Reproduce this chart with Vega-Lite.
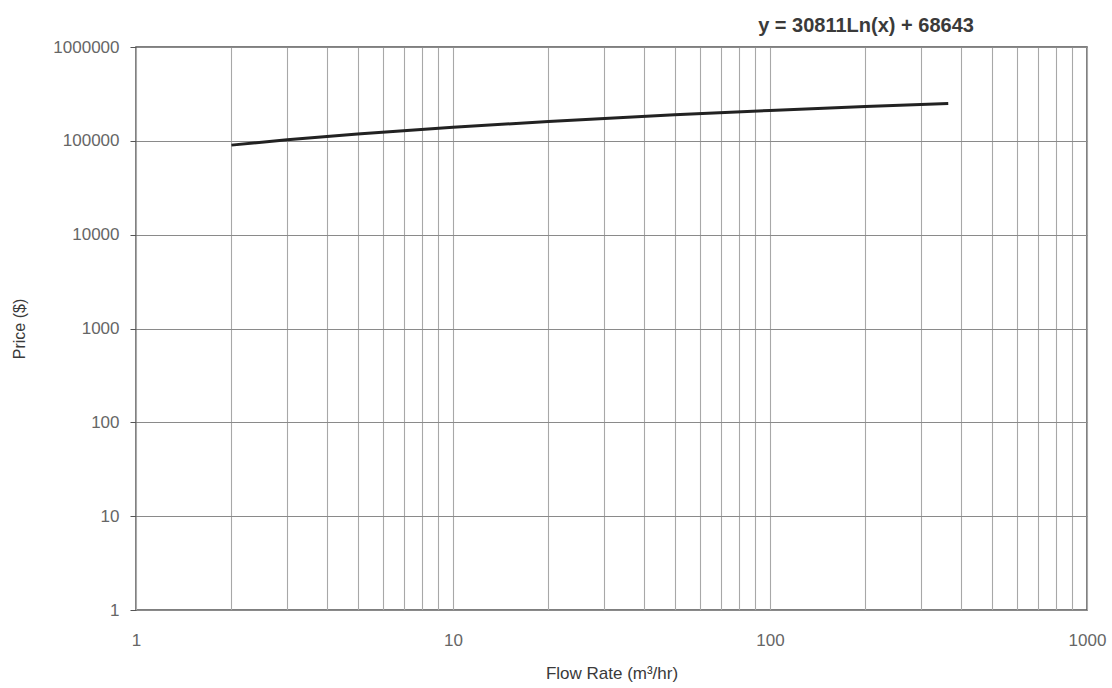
{
  "$schema": "https://vega.github.io/schema/vega-lite/v6.json",
  "autosize": {"type": "none"},
  "padding": {"left": 136, "top": 47, "right": 25, "bottom": 78},
  "width": 951,
  "height": 563,
  "background": "#ffffff",
  "title": {
    "text": "y = 30811Ln(x) + 68643",
    "anchor": "end",
    "dx": -132,
    "offset": 2,
    "fontSize": 20,
    "fontWeight": "bold",
    "font": "Liberation Sans",
    "color": "#3a3a3a"
  },
  "config": {
    "view": {"stroke": "#555555", "strokeWidth": 1.5},
    "font": "Liberation Sans"
  },
  "data": {
    "values": [
      {"flow": 2, "price": 90000},
      {"flow": 3, "price": 102492},
      {"flow": 5, "price": 118231},
      {"flow": 10, "price": 139589},
      {"flow": 20, "price": 160944},
      {"flow": 50, "price": 189176},
      {"flow": 100, "price": 210533},
      {"flow": 200, "price": 231889},
      {"flow": 365, "price": 250425}
    ]
  },
  "mark": {"type": "line", "color": "#222222", "strokeWidth": 3},
  "encoding": {
    "x": {
      "field": "flow",
      "type": "quantitative",
      "scale": {"type": "log", "domain": [1, 1000], "nice": false},
      "axis": {
        "title": "Flow Rate (m³/hr)",
        "values": [1,2,3,4,5,6,7,8,9,10,20,30,40,50,60,70,80,90,100,200,300,400,500,600,700,800,900,1000],
        "labelExpr": "datum.value == 1 || datum.value == 10 || datum.value == 100 || datum.value == 1000 ? format(datum.value, 'd') : ''",
        "ticks": false,
        "tickSize": 0,
        "domain": false,
        "labelPadding": 22,
        "labelFontSize": 17,
        "labelColor": "#666666",
        "labelFlush": false,
        "titleFontSize": 17,
        "titleFontWeight": "normal",
        "titleColor": "#3a3a3a",
        "titlePadding": 17,
        "grid": true,
        "gridColor": "#a8a8a8",
        "gridWidth": 1.1
      }
    },
    "y": {
      "field": "price",
      "type": "quantitative",
      "scale": {"type": "log", "domain": [1, 1000000], "nice": false},
      "axis": {
        "title": "Price ($)",
        "values": [1, 10, 100, 1000, 10000, 100000, 1000000],
        "format": "d",
        "ticks": true,
        "tickSize": 6,
        "tickColor": "#555555",
        "domain": false,
        "labelPadding": 11,
        "labelFontSize": 17,
        "labelColor": "#666666",
        "titleFontSize": 16,
        "titleFontWeight": "normal",
        "titleColor": "#3a3a3a",
        "titlePadding": 25,
        "grid": true,
        "gridColor": "#8a8a8a",
        "gridWidth": 1.1
      }
    }
  }
}
